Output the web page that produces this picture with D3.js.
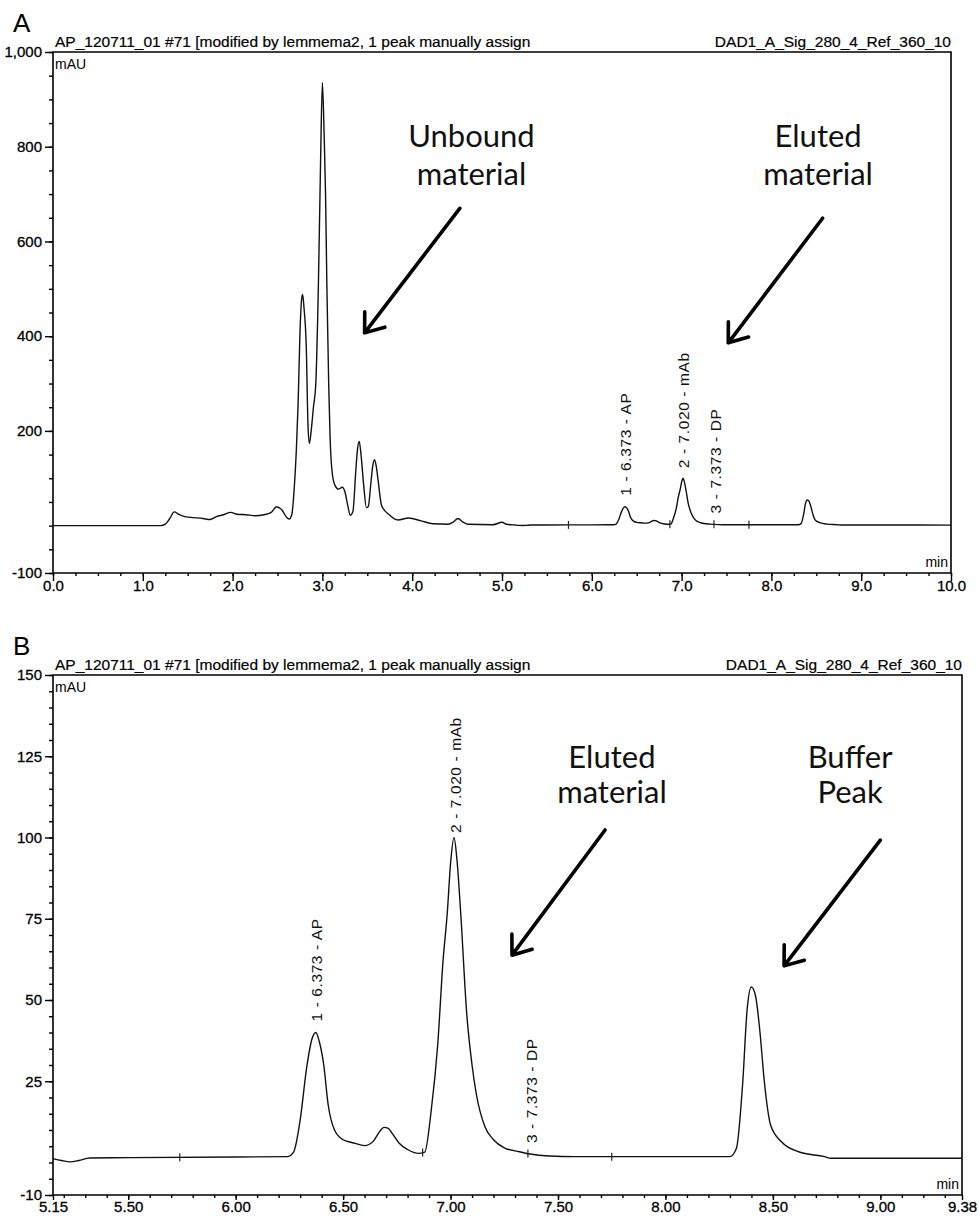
<!DOCTYPE html>
<html>
<head>
<meta charset="utf-8">
<script src="https://cdn.jsdelivr.net/npm/d3@7"></script>
<style>
  body { margin: 0; background: #fff; }
</style>
</head>
<body>
<svg id="chart" width="979" height="1225"></svg>
<script>
// chromatogram, retention time (min) and absorbance (mAU)
const times = [0.00, 1.20, 1.25, 1.30, 1.35, 1.40, 1.47, 1.57, 1.67, 1.75, 1.82, 1.90, 1.98, 2.05, 2.15, 2.25, 2.35, 2.43, 2.49, 2.55,
  2.60, 2.63, 2.66, 2.69, 2.71, 2.73, 2.75, 2.77, 2.78, 2.795, 2.82, 2.84, 2.855, 2.875, 2.90, 2.925, 2.955, 2.98, 3.00, 3.02,
  3.035, 3.05, 3.07, 3.085, 3.11, 3.14, 3.18, 3.22, 3.25, 3.28, 3.31, 3.34, 3.37, 3.39, 3.41, 3.43, 3.46, 3.49, 3.51, 3.54,
  3.56, 3.58, 3.60, 3.62, 3.66, 3.75, 3.84, 3.96, 4.10, 4.23, 4.40, 4.46, 4.51, 4.56, 4.62, 4.90, 5.00, 5.05, 5.15, 5.19,
  5.23, 5.27, 5.32, 5.50, 6.00, 6.24, 6.27, 6.30, 6.33, 6.355, 6.373, 6.39, 6.41, 6.43, 6.46, 6.50, 6.55, 6.60, 6.64, 6.67,
  6.69, 6.71, 6.73, 6.76, 6.80, 6.85, 6.88, 6.91, 6.94, 6.965, 6.985, 7.00, 7.016, 7.03, 7.047, 7.075, 7.10, 7.12, 7.16, 7.20,
  7.25, 7.32, 7.37, 7.46, 7.58, 8.30, 8.33, 8.36, 8.38, 8.40, 8.42, 8.44, 8.46, 8.49, 8.54, 8.62, 8.74, 8.77, 9.38, 10.00];
const signal = [0, 0, 3, 15, 29, 24, 19, 17, 15, 13, 19, 23, 28, 24, 23, 21, 23, 28, 40, 33,
  18, 14, 24, 90, 160, 260, 406, 480, 488, 460, 380, 210, 174, 200, 250, 295, 504, 772, 935, 820,
  700, 504, 300, 190, 110, 85, 77, 81, 72, 45, 22, 30, 110, 160, 178, 150, 85, 38, 40, 90,
  125, 139, 125, 96, 42, 22, 12, 16, 10, 4, 3, 8, 15, 8, 3, 2, 7, 3, 1.2, 0.6,
  0.2, 0.6, 1.4, 1.5, 1.7, 1.8, 3.3, 13, 29, 38, 40, 37, 30, 18, 10, 7, 6, 5.2, 6.5, 9.5,
  10.8, 10.5, 8.8, 6, 4, 2.8, 3.2, 16, 36, 62, 77, 92, 100, 93, 77, 46, 30, 21, 11, 7,
  4.5, 3.3, 2.6, 2.0, 1.8, 1.8, 4.3, 25, 47, 54, 51, 40, 25, 11.4, 6.4, 3.3, 1.8, 1.3, 1.3, 1.0];

// peak annotations from the integration
const peakTimes = [6.373, 7.020, 7.373];
const peakNames = ["1 - 6.373 - AP", "2 - 7.020 - mAb", "3 - 7.373 - DP"];
const eventTimes = [5.74, 6.87, 7.36, 7.75];

// axis ticks
const xTicksA = [0, 1, 2, 3, 4, 5, 6, 7, 8, 9, 10];
const xLabelsA = ["0.0", "1.0", "2.0", "3.0", "4.0", "5.0", "6.0", "7.0", "8.0", "9.0", "10.0"];
const yTicksA = [1000, 800, 600, 400, 200, -100];
const yLabelsA = ["1,000", "800", "600", "400", "200", "-100"];
const xTicksB = [5.15, 5.5, 6, 6.5, 7, 7.5, 8, 8.5, 9, 9.38];
const xLabelsB = ["5.15", "5.50", "6.00", "6.50", "7.00", "7.50", "8.00", "8.50", "9.00", "9.38"];
const yTicksB = [150, 125, 100, 75, 50, 25, -10];
const yLabelsB = ["150", "125", "100", "75", "50", "25", "-10"];

// callouts: text lines, text anchor (min, mAU), arrow tail and tip (min, mAU)
const calloutTextA = [["Unbound", "material"], ["Eluted", "material"]];
const calloutAtA = [[4.66, 799], [8.52, 799]];
const arrowTailA = [[4.53, 670], [8.57, 649]];
const arrowTipA = [[3.47, 407], [7.52, 386]];
const calloutTextB = [["Eluted", "material"], ["Buffer", "Peak"]];
const calloutAtB = [[7.751, 121.4], [8.859, 121.4]];
const arrowTailB = [[7.719, 102.3], [9.00, 99.2]];
const arrowTipB = [[7.286, 63.8], [8.552, 60.5]];

const headerLeft = "AP_120711_01 #71 [modified by lemmema2, 1 peak manually assign";
const headerRight = "DAD1_A_Sig_280_4_Ref_360_10";

const sans = '"Liberation Sans", Arial, sans-serif';
const hand = 'Lato, "Open Sans", sans-serif';

const svg = d3.select("#chart");
const trace = times.map((t, i) => [t, signal[i]]);

function signalAt(t) {
  const i = d3.bisector(d => d[0]).left(trace, t);
  if (i <= 0) return trace[0][1];
  const a = trace[i - 1], b = trace[i];
  return a[1] + (b[1] - a[1]) * (t - a[0]) / (b[0] - a[0]);
}

function arrow(g, x0, y0, x1, y1) {
  const ang = Math.atan2(y0 - y1, x0 - x1);
  const len = 21, spread = 37 * Math.PI / 180;
  const p = d3.path();
  p.moveTo(x0, y0); p.lineTo(x1, y1);
  p.moveTo(x1 + len * Math.cos(ang - spread), y1 + len * Math.sin(ang - spread));
  p.lineTo(x1, y1);
  p.lineTo(x1 + len * Math.cos(ang + spread), y1 + len * Math.sin(ang + spread));
  g.append("path").attr("d", p.toString())
    .attr("fill", "none").attr("stroke", "#000").attr("stroke-width", 3.6)
    .attr("stroke-linecap", "round").attr("stroke-linejoin", "round");
}

function styleAxis(sel) {
  sel.select(".domain").remove();
  sel.selectAll("line").attr("stroke", "#000").attr("stroke-width", 1.4);
  sel.selectAll("text").attr("font-family", sans).attr("font-size", 15)
    .attr("fill", "#000").attr("stroke", "#000").attr("stroke-width", 0.3);
}

function drawPanel(p) {
  const x = d3.scaleLinear().domain(p.xDomain).range([p.left, p.right]);
  const y = d3.scaleLinear().domain(p.yDomain).range([p.bottom, p.top]);
  const g = svg.append("g");

  // minor ticks first, major ticks on top
  g.append("g").attr("transform", `translate(0,${p.bottom})`)
    .call(d3.axisBottom(x).tickValues(p.xMinor).tickSize(3).tickFormat(""))
    .call(styleAxis);
  g.append("g").attr("transform", `translate(0,${p.bottom})`)
    .call(d3.axisBottom(x).tickValues(p.xTicks).tickSize(p.xTickLen).tickPadding(p.xPad)
      .tickFormat((d, i) => p.xLabels[i]))
    .call(styleAxis);
  g.append("g").attr("transform", `translate(${p.left},0)`)
    .call(d3.axisLeft(y).tickValues(p.yMinor).tickSize(4).tickFormat(""))
    .call(styleAxis);
  g.append("g").attr("transform", `translate(${p.left},0)`)
    .call(d3.axisLeft(y).tickValues(p.yTicks).tickSize(8).tickPadding(3)
      .tickFormat((d, i) => p.yLabels[i]))
    .call(styleAxis);

  // frame
  g.append("path")
    .attr("d", `M${p.left},${p.top}H${p.right}V${p.bottom}H${p.left}Z`)
    .attr("fill", "none").attr("stroke", "#000").attr("stroke-width", 1.6);

  // header lines and units
  g.append("text").attr("x", p.left + 2).attr("y", p.top - 5)
    .attr("font-family", sans).attr("font-size", 15.5).attr("stroke", "#000").attr("stroke-width", 0.2)
    .text(headerLeft);
  g.append("text").attr("x", p.right).attr("y", p.top - 5).attr("text-anchor", "end")
    .attr("font-family", sans).attr("font-size", 15.5).attr("stroke", "#000").attr("stroke-width", 0.2)
    .text(headerRight);
  g.append("text").attr("x", p.left + 2).attr("y", p.top + 17)
    .attr("font-family", sans).attr("font-size", 14).text("mAU");
  g.append("text").attr("x", p.right - 3).attr("y", p.bottom - 6).attr("text-anchor", "end")
    .attr("font-family", sans).attr("font-size", 14).text("min");
  g.append("text").attr("x", 13).attr("y", p.top - 20)
    .attr("font-family", sans).attr("font-size", 26).text(p.letter);

  // trace
  const pts = trace.filter(d => d[0] >= p.xDomain[0] && d[0] <= p.xDomain[1]);
  const line = d3.line().x(d => x(d[0])).y(d => y(d[1])).curve(d3.curveMonotoneX);
  g.append("path").datum(pts).attr("d", line)
    .attr("fill", "none").attr("stroke", "#111").attr("stroke-width", 1.4);

  // integration event marks
  g.selectAll(".evt").data(eventTimes).enter().append("line")
    .attr("x1", d => x(d)).attr("x2", d => x(d))
    .attr("y1", d => y(signalAt(d)) - 4).attr("y2", d => y(signalAt(d)) + 4)
    .attr("stroke", "#222").attr("stroke-width", 1.2);

  // peak names, rotated
  g.selectAll(".pk").data(peakTimes).enter().append("text")
    .attr("transform", d => `translate(${x(d) + 6},${y(signalAt(d)) - 11}) rotate(-90)`)
    .attr("font-family", sans).attr("font-size", 15.5).attr("letter-spacing", 0.6)
    .attr("fill", "#111")
    .text((d, i) => peakNames[i]);

  // callouts
  p.calloutText.forEach((lines, i) => {
    const cx = x(p.calloutAt[i][0]), cy = y(p.calloutAt[i][1]);
    lines.forEach((s, j) => {
      g.append("text").attr("x", cx).attr("y", cy + j * p.lineGap)
        .attr("text-anchor", "middle").attr("font-family", hand).attr("font-size", 31)
        .attr("fill", "#111").text(s);
    });
    arrow(g, x(p.arrowTail[i][0]), y(p.arrowTail[i][1]), x(p.arrowTip[i][0]), y(p.arrowTip[i][1]));
  });
}

drawPanel({
  letter: "A", left: 53, right: 951, top: 52, bottom: 573,
  xDomain: [0, 10], yDomain: [-100, 1000],
  xTicks: xTicksA, xLabels: xLabelsA, xMinor: d3.range(0, 10.001, 0.25), xTickLen: 8, xPad: -1,
  yTicks: yTicksA, yLabels: yLabelsA, yMinor: d3.range(-100, 1001, 50),
  calloutText: calloutTextA, calloutAt: calloutAtA, arrowTail: arrowTailA, arrowTip: arrowTipA, lineGap: 38
});

drawPanel({
  letter: "B", left: 53, right: 962, top: 675, bottom: 1195,
  xDomain: [5.15, 9.38], yDomain: [-10, 150],
  xTicks: xTicksB, xLabels: xLabelsB, xMinor: d3.range(5.2, 9.35, 0.1), xTickLen: 5, xPad: 1,
  yTicks: yTicksB, yLabels: yLabelsB, yMinor: d3.range(-10, 151, 5),
  calloutText: calloutTextB, calloutAt: calloutAtB, arrowTail: arrowTailB, arrowTip: arrowTipB, lineGap: 35
});
</script>
</body>
</html>
